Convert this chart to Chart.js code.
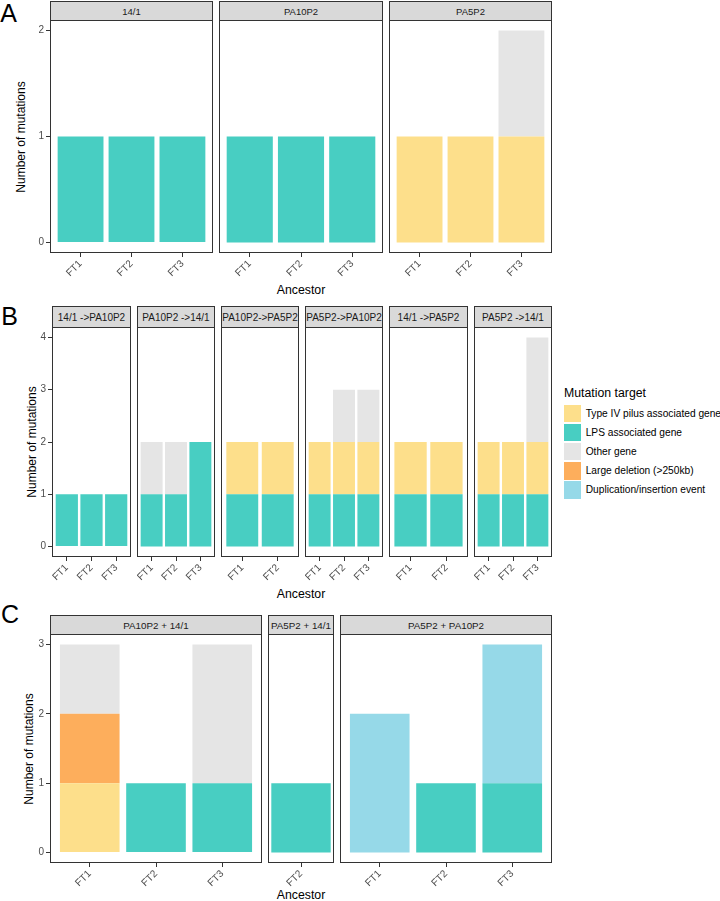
<!DOCTYPE html>
<html><head><meta charset="utf-8">
<script src="https://cdn.jsdelivr.net/npm/chart.js@4.4.1/dist/chart.umd.min.js"></script>
<style>
html,body{margin:0;padding:0;background:#fff;}
#root{position:relative;width:720px;height:901px;overflow:hidden;font-family:'Liberation Sans',Arial,sans-serif;}
.t{position:absolute;white-space:nowrap;line-height:1;color:#000;}
.strip{position:absolute;box-sizing:border-box;border:1px solid #333;background:#d9d9d9;display:flex;align-items:center;justify-content:center;white-space:nowrap;overflow:hidden;color:#1a1a1a;}
canvas{position:absolute;}
</style></head><body><div id="root"></div>
<script>
// ---------- DATA ----------
const seriesNames = ['Type IV pilus associated gene','LPS associated gene','Other gene','Large deletion (>250kb)','Duplication/insertion event'];
const seriesColors = ['#FDDF8B','#48CEC2','#E5E5E5','#FDAE5C','#96D9E8'];
const legendTitle = 'Mutation target';
const xTitle = 'Ancestor';
const yTitle = 'Number of mutations';

// Row A
const facetsA = ['14/1','PA10P2','PA5P2'];
const catsA = [['FT1','FT2','FT3'],['FT1','FT2','FT3'],['FT1','FT2','FT3']];
const typeIVA = [[0,0,0],[0,0,0],[1,1,1]];
const lpsA = [[1,1,1],[1,1,1],[0,0,0]];
const otherA = [[0,0,0],[0,0,0],[0,0,1]];
const largeDelA = [[0,0,0],[0,0,0],[0,0,0]];
const dupA = [[0,0,0],[0,0,0],[0,0,0]];
const yTicksA = [0,1,2];

// Row B
const facetsB = ['14/1 ->PA10P2','PA10P2 ->14/1','PA10P2->PA5P2','PA5P2->PA10P2','14/1 ->PA5P2','PA5P2 ->14/1'];
const catsB = [['FT1','FT2','FT3'],['FT1','FT2','FT3'],['FT1','FT2'],['FT1','FT2','FT3'],['FT1','FT2'],['FT1','FT2','FT3']];
const typeIVB = [[0,0,0],[0,0,0],[1,1],[1,1,1],[1,1],[1,1,1]];
const lpsB = [[1,1,1],[1,1,2],[1,1],[1,1,1],[1,1],[1,1,1]];
const otherB = [[0,0,0],[1,1,0],[0,0],[0,1,1],[0,0],[0,0,2]];
const largeDelB = [[0,0,0],[0,0,0],[0,0],[0,0,0],[0,0],[0,0,0]];
const dupB = [[0,0,0],[0,0,0],[0,0],[0,0,0],[0,0],[0,0,0]];
const yTicksB = [0,1,2,3,4];

// Row C
const facetsC = ['PA10P2 + 14/1','PA5P2 + 14/1','PA5P2 + PA10P2'];
const catsC = [['FT1','FT2','FT3'],['FT2'],['FT1','FT2','FT3']];
const typeIVC = [[1,0,0],[0],[0,0,0]];
const lpsC = [[0,1,1],[1],[0,1,1]];
const otherC = [[1,0,2],[0],[0,0,0]];
const largeDelC = [[1,0,0],[0],[0,0,0]];
const dupC = [[0,0,0],[0],[2,0,2]];
const yTicksC = [0,1,2,3];

// ---------- LAYOUT ----------
const rows = [
  {letter:'A', letterPos:[8.5,12.5], stripTop:1, plotTop:20, plotBottom:253, stripFont:9.5,
   panels:[[50,213],[219,383],[389,552]], yMin:-0.1, yMax:2.1, yTitlePos:[20.5,136.5], xTitleY:289.5,
   data:{facets:facetsA, cats:catsA, typeIV:typeIVA, lps:lpsA, other:otherA, largeDel:largeDelA, dup:dupA, yTicks:yTicksA}},
  {letter:'B', letterPos:[9.5,316], stripTop:306, plotTop:327, plotBottom:557, stripFont:10,
   panels:[[52,131],[137,215],[221,299],[305,383],[389,468],[474,552]], yMin:-0.2, yMax:4.2, yTitlePos:[32,442], xTitleY:594,
   data:{facets:facetsB, cats:catsB, typeIV:typeIVB, lps:lpsB, other:otherB, largeDel:largeDelB, dup:dupB, yTicks:yTicksB}},
  {letter:'C', letterPos:[10,614], stripTop:615, plotTop:634, plotBottom:863, stripFont:9.8,
   panels:[[50,262],[268,334],[340,552]], yMin:-0.15, yMax:3.15, yTitlePos:[28.5,749], xTitleY:895,
   data:{facets:facetsC, cats:catsC, typeIV:typeIVC, lps:lpsC, other:otherC, largeDel:largeDelC, dup:dupC, yTicks:yTicksC}}
];

Chart.defaults.font.family = "'Liberation Sans', Arial, sans-serif";
const root = document.getElementById('root');

function addText(txt, x, y, size, opts){
  opts = opts || {};
  const d = document.createElement('div');
  d.className = 't';
  d.textContent = txt;
  d.style.fontSize = size + 'px';
  d.style.left = x + 'px';
  d.style.top = y + 'px';
  if (opts.color) d.style.color = opts.color;
  let tr = opts.anchor === 'left' ? 'translate(0,-50%)' : 'translate(-50%,-50%)';
  if (opts.rotate) tr += ' rotate(' + opts.rotate + 'deg)';
  d.style.transform = tr;
  root.appendChild(d);
  return d;
}

const borderPlugin = {
  id: 'panelBorder',
  afterDatasetsDraw(chart){
    const {ctx, chartArea:a} = chart;
    ctx.save();
    ctx.strokeStyle = '#333';
    ctx.lineWidth = 1;
    ctx.strokeRect(a.left + 0.5, a.top + 0.5, a.right - a.left - 1, a.bottom - a.top - 1);
    ctx.restore();
  }
};

// stacking order bottom -> top: LPS, Type IV, Large deletion, Other, Duplication
const stackOrder = [1, 0, 3, 2, 4];

function makePanel(row, idx){
  const data = row.data;
  const [l, r] = row.panels[idx];
  const showY = idx === 0;
  const G = showY ? 50 : 0;
  const XH = 34;
  const plotH = row.plotBottom - row.plotTop;
  const W = (r - l) + G, H = plotH + XH;

  const s = document.createElement('div');
  s.className = 'strip';
  s.style.left = l + 'px';
  s.style.top = row.stripTop + 'px';
  s.style.width = (r - l) + 'px';
  s.style.height = (row.plotTop - row.stripTop + 1) + 'px';
  s.style.fontSize = row.stripFont + 'px';
  s.textContent = data.facets[idx];
  root.appendChild(s);

  const cv = document.createElement('canvas');
  cv.width = W; cv.height = H;
  cv.style.left = (l - G) + 'px';
  cv.style.top = row.plotTop + 'px';
  cv.style.width = W + 'px';
  cv.style.height = H + 'px';
  root.appendChild(cv);

  const cats = data.cats[idx];
  const n = cats.length;
  const seriesVals = [data.typeIV, data.lps, data.other, data.largeDel, data.dup];
  const datasets = stackOrder.map(k => ({
    label: seriesNames[k],
    backgroundColor: seriesColors[k],
    borderWidth: 0,
    categoryPercentage: 1,
    barPercentage: 0.9,
    data: seriesVals[k][idx].map((v, i) => ({x: i + 1, y: v}))
  }));

  new Chart(cv, {
    type: 'bar',
    data: {datasets},
    options: {
      responsive: false,
      animation: false,
      devicePixelRatio: 1,
      layout: {padding: 0, autoPadding: false},
      plugins: {legend: {display: false}, tooltip: {enabled: false}, title: {display: false}},
      scales: {
        x: {
          type: 'linear', stacked: true, offset: false,
          min: n > 1 ? 0.4 : 0.5, max: n > 1 ? n + 0.6 : 1.5,
          grid: {display: true, offset: false, drawOnChartArea: false, drawTicks: true, tickLength: 4, color: '#333', lineWidth: 1},
          border: {display: false},
          afterBuildTicks: sc => { sc.ticks = cats.map((c, i) => ({value: i + 1})); },
          afterFit: sc => { sc.height = XH; sc.paddingLeft = 0; sc.paddingRight = 0; sc.paddingTop = 0; sc.paddingBottom = 0; },
          ticks: {autoSkip: false, minRotation: 45, maxRotation: 45, padding: 1, color: '#4d4d4d', font: {size: 10},
            callback: (v) => cats[Math.round(v) - 1]}
        },
        y: {
          display: showY, stacked: true, min: row.yMin, max: row.yMax,
          grid: {display: true, drawOnChartArea: false, drawTicks: true, tickLength: 4, color: '#333', lineWidth: 1},
          border: {display: false},
          afterBuildTicks: sc => { sc.ticks = data.yTicks.map(v => ({value: v})); },
          afterFit: sc => { sc.width = G; sc.paddingTop = 0; sc.paddingBottom = 0; sc.paddingLeft = 0; sc.paddingRight = 0; },
          ticks: {padding: 2, color: '#4d4d4d', font: {size: 10}, callback: v => String(v)}
        }
      }
    },
    plugins: [borderPlugin]
  });
}

rows.forEach(row => {
  addText(row.letter, row.letterPos[0], row.letterPos[1], 25);
  addText(yTitle, row.yTitlePos[0], row.yTitlePos[1], 12, {rotate: -90});
  addText(xTitle, 301, row.xTitleY, 12.3);
  row.panels.forEach((p, i) => makePanel(row, i));
});

// legend
addText(legendTitle, 564, 393.3, 12.3, {anchor: 'left'});
const legendCenters = [413.5, 432.7, 451.8, 470.9, 490];
seriesNames.forEach((name, i) => {
  const k = document.createElement('div');
  k.style.position = 'absolute';
  k.style.left = '564px';
  k.style.top = (legendCenters[i] - 8.7) + 'px';
  k.style.width = '17.4px';
  k.style.height = '17.4px';
  k.style.background = seriesColors[i];
  root.appendChild(k);
  addText(name, 585.7, legendCenters[i], 10.2, {anchor: 'left'});
});
</script></body></html>
